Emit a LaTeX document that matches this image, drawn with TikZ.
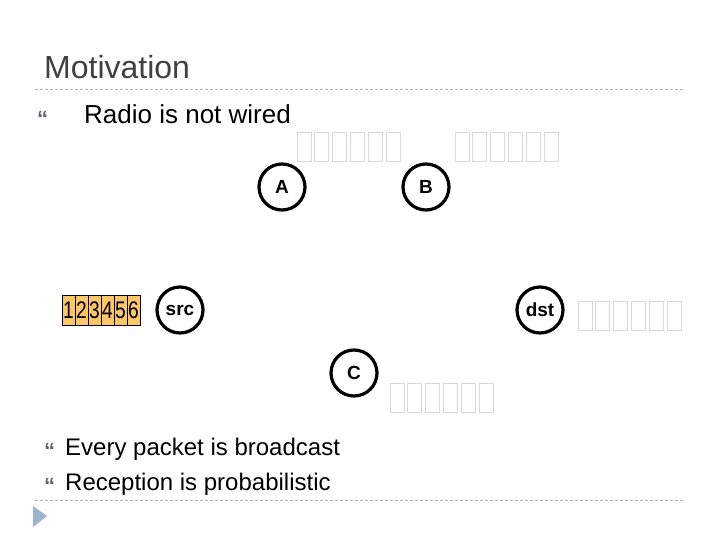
\documentclass[tikz,border=0pt]{standalone}
\usepackage{fontspec}
\setmainfont{Liberation Sans}
\usetikzlibrary{positioning}
\definecolor{titlegray}{RGB}{64,64,64}
\definecolor{bulletgray}{RGB}{96,100,108}
\definecolor{rulegray}{RGB}{176,180,186}
\definecolor{tofugray}{RGB}{214,218,222}
\definecolor{packetorange}{RGB}{250,198,104}
\definecolor{arrowblue}{RGB}{157,180,208}
\tikzstyle{station} = [circle, draw, line width=3.2pt, minimum size=46pt, inner sep=0pt, font=\bfseries\fontsize{19}{19}\selectfont]
\tikzstyle{cell} = [draw, line width=1pt, fill=packetorange, minimum width=13pt, minimum height=30pt, inner sep=0pt, outer sep=0pt, font=\fontsize{24}{24}\selectfont]
\tikzstyle{tofu} = [draw=tofugray, line width=0.8pt]
\tikzstyle{rule} = [draw=rulegray, line width=0.8pt, dash pattern=on 3pt off 2pt]
\tikzstyle{bullet} = [anchor=base west, inner sep=0pt, text=bulletgray, font=\bfseries\fontsize{22}{22}\selectfont]
\tikzstyle{bodytext} = [anchor=base west, inner sep=0pt, font=\fontsize{24}{24}\selectfont]

\begin{document}
\begin{tikzpicture}[x=1pt, y=-1pt]
    \useasboundingbox (0,0) rectangle (720,540);
    % title and rules
    \node[anchor=base west, inner sep=0pt, text=titlegray, font=\fontsize{32}{32}\selectfont] (title) at (44,79) {Motivation};
    \draw[rule] (35,89) -- (685,89);
    \draw[rule] (35,500) -- (685,500);
    \fill[arrowblue] (33,506) -- (47,516) -- (33,527) -- cycle;
    % bullets
    \node[bullet] (b1) at (37,127) {“};
    \node[bodytext, font=\fontsize{26}{26}\selectfont] (t1) at (84,124) {Radio is not wired};
    \node[bullet] (b2) at (44,458) {“};
    \node[bodytext] (t2) at (65,455) {Every packet is broadcast};
    \node[bullet] (b3) at (44,493) {“};
    \node[bodytext] (t3) at (65,490) {Reception is probabilistic};
    % stations
    \node[station] (A) at (282,187) {A};
    \node[station] (B) at (426,187) {B};
    \node[station] (src) at (180,310) {src};
    \node[station] (dst) at (540,310) {dst};
    \node[station] (C) at (354,373) {C};
    % packet
    \node[cell] (p1) at (68.5,310) {\scalebox{0.8}[1]{1}};
    \foreach \i [remember=\i as \j (initially 1)] in {2,...,6}
        \node[cell, right=0pt of p\j] (p\i) {\scalebox{0.8}[1]{\i}};
    % missing glyphs
    \foreach \x/\y in {297/132, 455/132, 578/301, 390/383}
        \foreach \k in {0,...,5}
            \draw[tofu] (\x+\k*17.8,\y) rectangle ++(14,29);
\end{tikzpicture}
\end{document}
